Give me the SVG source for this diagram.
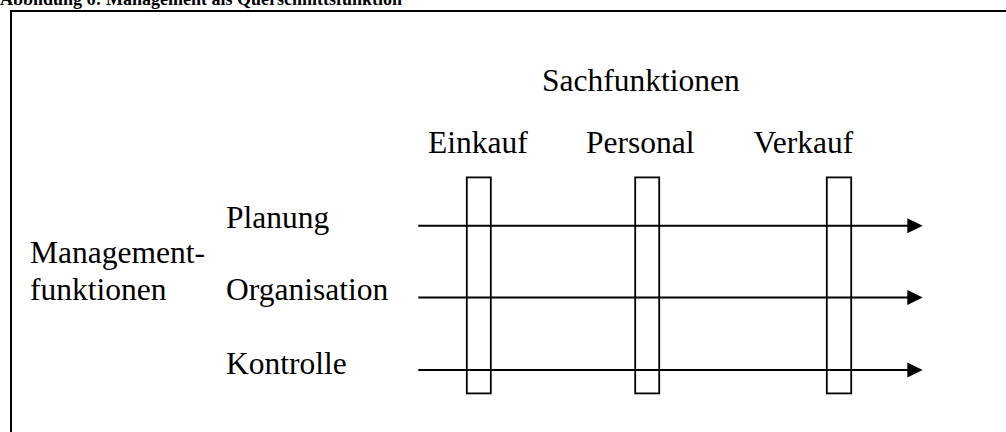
<svg xmlns="http://www.w3.org/2000/svg" width="1006" height="432" viewBox="0 0 1006 432">
  <style>
    .lbl { font-family: "Liberation Serif", "Times New Roman", serif; font-size: 31.5px; fill: #000; }
    .title { font-family: "Liberation Serif", "Times New Roman", serif; font-size: 18px; font-weight: bold; fill: #000; }
    .frame { fill: none; stroke: #000; stroke-width: 2; }
    .col { fill: none; stroke: #000; stroke-width: 1.8; }
    .flow { stroke: #000; stroke-width: 2; fill: none; }
    .head { fill: #000; stroke: none; }
  </style>

  <rect width="1006" height="432" fill="#fff"/>

  <!-- caption, partly above the top edge -->
  <text class="title" x="0" y="4.5">Abbildung 6: Management als Querschnittsfunktion</text>

  <!-- outer frame (open to the right and bottom) -->
  <path class="frame" d="M11,432 V11 H1006"/>

  <!-- headings -->
  <g id="sachfunktionen">
    <text class="lbl" x="542" y="91">Sachfunktionen</text>
  </g>
  <g id="managementfunktionen">
    <text class="lbl" x="30" y="263">Management-</text>
    <text class="lbl" x="30" y="300">funktionen</text>
  </g>

  <!-- functional columns -->
  <g id="einkauf">
    <text class="lbl" x="428" y="153">Einkauf</text>
    <rect class="col" x="466.8" y="177.4" width="24" height="216"/>
  </g>
  <g id="personal">
    <text class="lbl" x="586" y="153">Personal</text>
    <rect class="col" x="635.2" y="177.4" width="24" height="216"/>
  </g>
  <g id="verkauf">
    <text class="lbl" x="753.5" y="153">Verkauf</text>
    <rect class="col" x="826.8" y="177.4" width="24.4" height="216"/>
  </g>

  <!-- management rows -->
  <g id="planung">
    <text class="lbl" x="226" y="228">Planung</text>
  </g>
  <g id="organisation">
    <text class="lbl" x="226" y="300">Organisation</text>
  </g>
  <g id="kontrolle">
    <text class="lbl" x="226" y="374">Kontrolle</text>
  </g>

  <!-- cross-cutting arrows -->
  <g id="connectors">
    <line class="flow" x1="418.3" y1="225.8" x2="909" y2="225.8"/>
    <polygon class="head" points="907.3,218.3 922.7,225.8 907.3,233.3"/>
    <line class="flow" x1="418.3" y1="297.4" x2="909" y2="297.4"/>
    <polygon class="head" points="907.3,289.9 922.7,297.4 907.3,304.9"/>
    <line class="flow" x1="418.3" y1="370" x2="909" y2="370"/>
    <polygon class="head" points="907.3,362.5 922.7,370 907.3,377.5"/>
  </g>
</svg>
